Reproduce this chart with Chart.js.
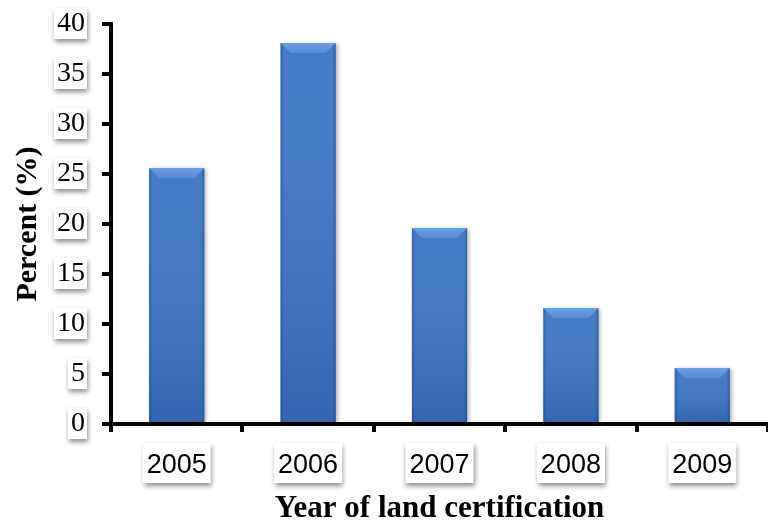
<!DOCTYPE html>
<html>
<head>
<meta charset="utf-8">
<script src="https://cdn.jsdelivr.net/npm/chart.js@4/dist/chart.umd.min.js"></script>
<style>
  html, body { margin: 0; padding: 0; background: #fff; }
  #wrap { width: 768px; height: 525px; }
</style>
</head>
<body>
<div id="wrap"><canvas id="chart"></canvas></div>
<script>
const years = ['2005', '2006', '2007', '2008', '2009'];
const percent = [25.6, 38.1, 19.6, 11.6, 5.6];
const yTicks = [0, 5, 10, 15, 20, 25, 30, 35, 40];

const serif = '"Liberation Serif", "Times New Roman", serif';
const sans = '"Liberation Sans", Arial, sans-serif';

// white label boxes with a soft drop shadow behind the tick labels
const labelBoxes = {
  id: 'labelBoxes',
  beforeDraw(chart) {
    const ctx = chart.ctx;
    const xs = chart.scales.x, ys = chart.scales.y;
    ctx.save();
    ctx.shadowColor = 'rgba(0,0,0,0.45)';
    ctx.shadowBlur = 5;
    ctx.shadowOffsetX = 1;
    ctx.shadowOffsetY = 3;
    ctx.fillStyle = '#fff';

    ctx.font = '28px ' + serif;
    ys.ticks.forEach((t, i) => {
      const w = ctx.measureText(String(t.value)).width;
      const yc = ys.getPixelForTick(i);
      const right = ys.right - 26;
      ctx.fillRect(right - w - 3, yc - 16, w + 5, 31);
    });

    ctx.font = '27px ' + sans;
    xs.ticks.forEach((t, i) => {
      const w = ctx.measureText(years[i]).width;
      const xc = xs.getPixelForTick(i);
      ctx.fillRect(xc - w / 2 - 4, 443, w + 8, 40);
    });
    ctx.restore();
  }
};

// bevelled look for the bars: drop shadow, shaded body, light top facet
const bevel = {
  id: 'bevel',
  beforeDatasetsDraw(chart) {
    const ctx = chart.ctx;
    ctx.save();
    ctx.shadowColor = 'rgba(0,0,0,0.3)';
    ctx.shadowBlur = 4;
    ctx.shadowOffsetX = 2;
    ctx.shadowOffsetY = 1;
  },
  afterDatasetsDraw(chart) {
    const ctx = chart.ctx;
    ctx.restore();
    const meta = chart.getDatasetMeta(0);
    meta.data.forEach(bar => {
      const l = bar.x - bar.width / 2, r = bar.x + bar.width / 2;
      const top = bar.y, base = bar.base;
      const b = 10;

      const v = ctx.createLinearGradient(0, top, 0, base);
      v.addColorStop(0, 'rgba(255,255,255,0.05)');
      v.addColorStop(1, 'rgba(15,40,95,0.18)');
      ctx.fillStyle = v;
      ctx.fillRect(l, top, r - l, base - top);

      const g = ctx.createLinearGradient(l, 0, r, 0);
      g.addColorStop(0, 'rgba(20,50,110,0.35)');
      g.addColorStop(0.06, 'rgba(20,50,110,0.0)');
      g.addColorStop(0.94, 'rgba(20,50,110,0.0)');
      g.addColorStop(1, 'rgba(20,50,110,0.4)');
      ctx.fillStyle = g;
      ctx.fillRect(l, top, r - l, base - top);

      // top facet
      ctx.beginPath();
      ctx.moveTo(l, top);
      ctx.lineTo(r, top);
      ctx.lineTo(r - b, top + b);
      ctx.lineTo(l + b, top + b);
      ctx.closePath();
      const t = ctx.createLinearGradient(0, top, 0, top + b);
      t.addColorStop(0, 'rgba(120,170,235,0.75)');
      t.addColorStop(1, 'rgba(110,160,230,0.45)');
      ctx.fillStyle = t;
      ctx.fill();
    });
  }
};

new Chart(document.getElementById('chart'), {
  type: 'bar',
  data: {
    labels: years,
    datasets: [{
      data: percent,
      backgroundColor: '#3b74c4',
      borderWidth: 0,
      barPercentage: 0.84,
      categoryPercentage: 0.5
    }]
  },
  options: {
    responsive: true,
    maintainAspectRatio: false,
    animation: false,
    layout: { padding: { top: 24, right: 0, bottom: 0, left: 10 } },
    plugins: { legend: { display: false }, tooltip: { enabled: false } },
    scales: {
      x: {
        border: { color: '#000', width: 4 },
        grid: { drawOnChartArea: false, drawTicks: true, tickLength: 8, color: '#000', lineWidth: 4 },
        ticks: { color: '#000', font: { family: sans, size: 27 }, padding: 17, maxRotation: 0 },
        title: {
          display: true,
          text: 'Year of land certification',
          color: '#000',
          font: { family: serif, size: 31, weight: 'bold', lineHeight: 1 },
          padding: { top: 4, bottom: 1 }
        },
        afterFit(scale) { scale.height = 101; }
      },
      y: {
        min: 0,
        max: 40,
        afterBuildTicks(scale) { scale.ticks = yTicks.map(v => ({ value: v })); },
        border: { color: '#000', width: 4 },
        grid: { drawOnChartArea: false, drawTicks: true, tickLength: 9, color: '#000', lineWidth: 4 },
        ticks: { color: '#000', font: { family: serif, size: 28 }, padding: 17 },
        title: {
          display: true,
          text: 'Percent (%)',
          color: '#000',
          font: { family: serif, size: 30, weight: 'bold' },
          padding: { top: 0, bottom: 0 }
        },
        afterFit(scale) {
          scale.width = 101;
          scale.paddingTop = 0;
          scale.paddingBottom = 0;
        }
      }
    }
  },
  plugins: [labelBoxes, bevel]
});
</script>
</body>
</html>
